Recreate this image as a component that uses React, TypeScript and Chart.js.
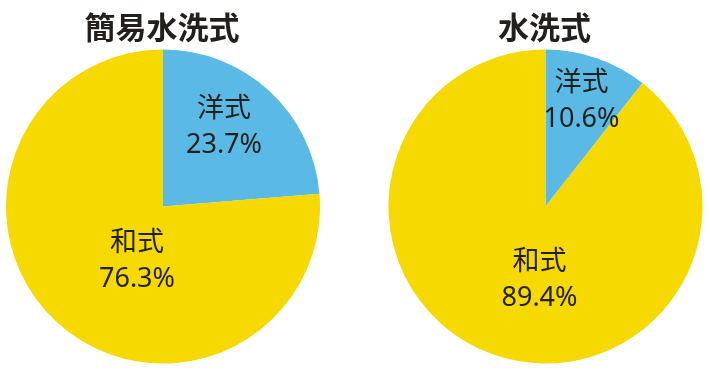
import React, { useEffect, useRef } from "react";
import { Chart, registerables } from "chart.js";

Chart.register(...registerables);

const categories = ["洋式", "和式"];
const titles = ["簡易水洗式", "水洗式"];
const simpleFlushValues = [23.7, 76.3];
const flushValues = [10.6, 89.4];
const sliceColors = ["#5bb9e5", "#f5d900"];

const TEXT_COLOR = "#231f1c";
const LABEL_FONT = '400 27px "Noto Sans", "Noto Sans CJK JP", sans-serif';
const TITLE_FONT = '700 31px "Noto Sans CJK JP", sans-serif';

type PieSpec = {
  title: string;
  values: number[];
  padding: { left: number; right: number; top: number; bottom: number };
  labelOffsets: [number, number][];
};

const labelPlugin = {
  id: "pieText",
  afterDraw(chart: any, _args: any, opts: any) {
    const ctx = chart.ctx;
    const meta = chart.getDatasetMeta(0);
    const arc0 = meta.data[0];
    if (!arc0) return;
    const cx = arc0.x;
    const cy = arc0.y;
    ctx.save();
    ctx.fillStyle = TEXT_COLOR;
    ctx.textAlign = "center";
    ctx.textBaseline = "middle";
    ctx.font = TITLE_FONT;
    ctx.fillText(opts.title, cx - 1, 27);
    ctx.font = LABEL_FONT;
    const data = chart.data.datasets[0].data as number[];
    const labels = chart.data.labels as string[];
    data.forEach((v, i) => {
      const [dx, dy] = opts.labelOffsets[i];
      const x = cx + dx;
      const y = cy + dy;
      ctx.fillText(labels[i], x, y - 18);
      ctx.fillText(v.toFixed(1) + "%", x, y + 18);
    });
    ctx.restore();
  },
};

function PieChart({ spec }: { spec: PieSpec }) {
  const ref = useRef<HTMLCanvasElement | null>(null);
  useEffect(() => {
    if (!ref.current) return;
    const chart = new Chart(ref.current, {
      type: "pie",
      data: {
        labels: categories,
        datasets: [
          {
            data: spec.values,
            backgroundColor: sliceColors,
            borderWidth: 0,
            hoverOffset: 0,
            offset: 0,
          },
        ],
      },
      options: {
        animation: false,
        responsive: false,
        devicePixelRatio: 1,
        layout: { padding: spec.padding },
        plugins: {
          legend: { display: false },
          tooltip: { enabled: false },
          title: { display: false },
          pieText: { title: spec.title, labelOffsets: spec.labelOffsets },
        } as any,
      },
      plugins: [labelPlugin],
    });
    return () => chart.destroy();
  }, [spec]);
  return <canvas ref={ref} width={355} height={371} style={{ display: "block" }} />;
}

const leftSpec: PieSpec = {
  title: titles[0],
  values: simpleFlushValues,
  padding: { left: 6, right: 35, top: 49.5, bottom: 7.5 },
  labelOffsets: [
    [61, -79.5],
    [-26, 54.5],
  ],
};

const rightSpec: PieSpec = {
  title: titles[1],
  values: flushValues,
  padding: { left: 33.5, right: 7.5, top: 49.5, bottom: 7.5 },
  labelOffsets: [
    [36, -105.5],
    [-6, 73.5],
  ],
};

export default function App() {
  return (
    <div
      style={{
        position: "fixed",
        left: 0,
        top: 0,
        width: 710,
        height: 371,
        display: "flex",
        background: "#ffffff",
      }}
    >
      <PieChart spec={leftSpec} />
      <PieChart spec={rightSpec} />
    </div>
  );
}
